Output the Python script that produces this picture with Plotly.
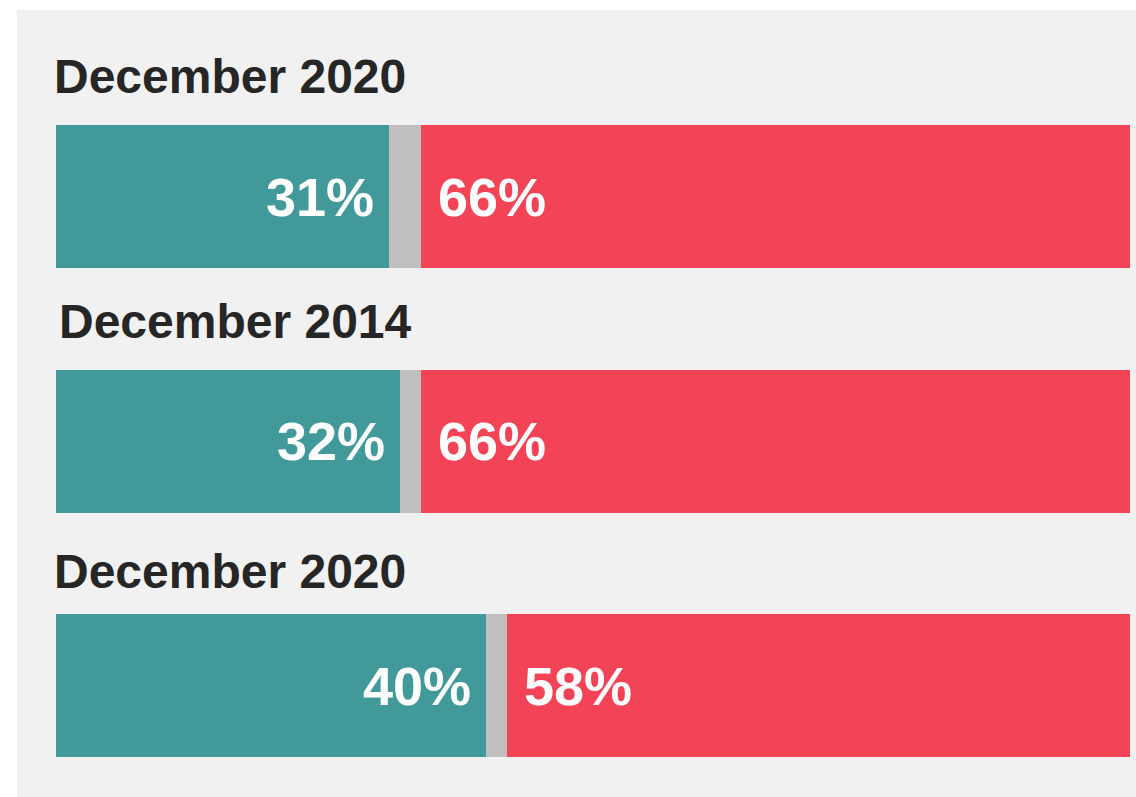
import plotly.graph_objects as go

# ---- data ----
titles = ["December 2020", "December 2014", "December 2020"]
agree = [31, 32, 40]       # teal
neutral = [3, 2, 2]        # gray
disagree = [66, 66, 58]    # red
rows = [0, 1, 2]

TEAL = "#429999"
GRAY = "#bfbfbf"
RED = "#f24456"
BG = "#f1f1f1"
TXT = "#262626"
FONT = "Liberation Sans, Arial, sans-serif"

fig = go.Figure()
for vals, col in [(agree, TEAL), (neutral, GRAY), (disagree, RED)]:
    fig.add_trace(go.Bar(
        y=rows, x=vals, orientation="h", width=0.585,
        marker=dict(color=col, line=dict(width=0)),
        hoverinfo="skip", showlegend=False,
    ))

ann = []
title_shift = [(-4, 0), (1, 0), (-4, -6)]
for i, r in enumerate(rows):
    dx, dy = title_shift[i]
    ann.append(dict(
        x=0, y=r - 0.489, xref="x", yref="y", text=titles[i],
        xanchor="left", yanchor="middle", showarrow=False,
        xshift=dx, yshift=dy,
        font=dict(family=FONT, size=48, color=TXT, weight="bold"),
    ))
    ann.append(dict(
        x=agree[i], y=r, xref="x", yref="y", text=f"{agree[i]}%",
        xanchor="right", yanchor="middle", showarrow=False, xshift=-13,
        font=dict(family=FONT, size=54, color="white", weight="bold"),
    ))
    ann.append(dict(
        x=agree[i] + neutral[i], y=r, xref="x", yref="y", text=f"{disagree[i]}%",
        xanchor="left", yanchor="middle", showarrow=False, xshift=15,
        font=dict(family=FONT, size=54, color="white", weight="bold"),
    ))

fig.update_layout(
    width=1136, height=797,
    margin=dict(l=17, r=0, t=10, b=0),
    paper_bgcolor="white", plot_bgcolor=BG,
    barmode="stack", bargap=0,
    annotations=ann,
    xaxis=dict(range=[-3.631, 100.559], showgrid=False, zeroline=False,
               showticklabels=False, fixedrange=True),
    yaxis=dict(range=[2.456, -0.763], showgrid=False, zeroline=False,
               showticklabels=False, fixedrange=True),
)

fig.write_html(
    "out.html",
    config={"displayModeBar": False, "staticPlot": True},
    post_script="document.body.style.margin='0';document.body.style.overflow='hidden';",
)
